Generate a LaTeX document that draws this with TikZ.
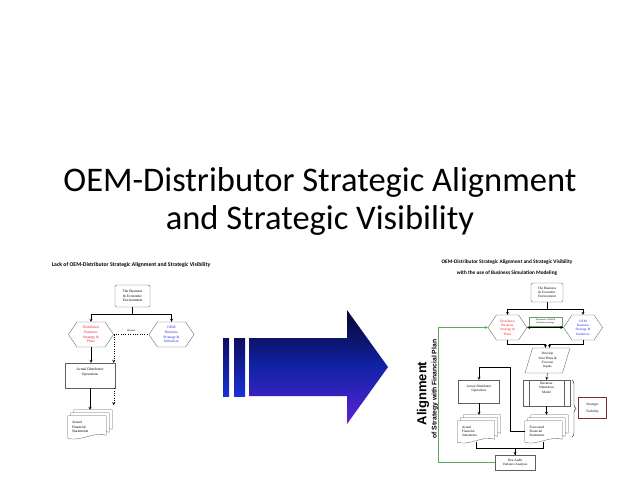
\documentclass[tikz,border=0pt]{standalone}
\usepackage{fontspec}
\setmainfont{Liberation Serif}
\newfontfamily\calibrifont{Carlito}
\newfontfamily\arialfont{Liberation Sans}
\usepackage{color}
\usepackage{tikz}
\usetikzlibrary{arrows,shapes.geometric,shapes.symbols,backgrounds,decorations.pathreplacing}

\definecolor{distred}{HTML}{E82020}
\definecolor{oemblue}{HTML}{2A2AE6}
\definecolor{edgegray}{HTML}{606060}
\definecolor{loopgreen}{HTML}{5FAA5F}
\definecolor{visred}{HTML}{7A2E2E}
\definecolor{navytop}{HTML}{06062E}
\definecolor{navymid}{HTML}{1222A6}
\definecolor{navybot}{HTML}{5A22D6}
\definecolor{bartop}{HTML}{0E0E62}
\definecolor{barbot}{HTML}{1A30D6}

\tikzset{
  flow/.style={draw=edgegray, line width=0.35pt, align=center, inner sep=0.5pt,
    font=\fontsize{3.7}{4.6}\selectfont},
  small/.style={font=\fontsize{3.4}{4.3}\selectfont},
  envbox/.style={flow, rounded corners=2pt},
  hexa/.style={flow, shape=signal, signal to=west and east, signal pointer angle=112},
  opsbox/.style={flow, rectangle, text height=7pt, text depth=7pt},
  simbox/.style={flow, rectangle, text height=9pt, text depth=9pt,
    path picture={
      \draw[edgegray, line width=0.35pt]
        ([xshift=6pt]path picture bounding box.north west) -- ([xshift=6pt]path picture bounding box.south west)
        ([xshift=-6pt]path picture bounding box.north east) -- ([xshift=-6pt]path picture bounding box.south east);
    }},
  slantbox/.style={flow, trapezium, trapezium left angle=74, trapezium right angle=106, trapezium stretches=true},
  docs/.style={align=left, inner sep=1pt, anchor=center, text width=30pt},
  link/.style={line width=0.35pt, ->},
  plain/.style={line width=0.35pt},
}

% back sheets and front sheet of a document pile, drawn behind node #1
\newcommand{\docpile}[1]{%
  \begin{scope}[on background layer]
    \foreach \d in {6,3,0}
      \draw[edgegray, line width=0.35pt, fill=white]
        ([xshift=\d pt,yshift=\d pt]#1.north west) -- ([xshift=\d pt,yshift=\d pt]#1.north east)
        -- ([xshift=\d pt,yshift=\d pt+3pt]#1.south east)
        .. controls ([xshift=\d pt-12pt,yshift=\d pt+7pt]#1.south east)
        and ([xshift=\d pt+12pt,yshift=\d pt-4pt]#1.south west)
        .. ([xshift=\d pt,yshift=\d pt]#1.south west) -- cycle;
  \end{scope}}

\begin{document}
\begin{tikzpicture}[x=1pt, y=-1pt, >=stealth]
\useasboundingbox (0,0) rectangle (640,480);

% slide title
\node[font=\calibrifont\fontsize{34.5}{38}\selectfont, align=center] (title) at (320,201)
  {OEM-Distributor Strategic Alignment\\and Strategic Visibility};

% ---- left: without alignment ----
\node[font=\calibrifont\bfseries\fontsize{5.7}{6.6}\selectfont] (lhead) at (131,265)
  {Lack of OEM-Distributor Strategic Alignment and Strategic Visibility};
\node[envbox, minimum width=35, minimum height=22] (lbiz) at (132.5,296) {The Business\\\& Economic\\Environment};
\node[hexa, minimum width=45, minimum height=25, text=distred] (ldist) at (91,334.5) {Distributor\\Business\\Strategy \&\\Plans};
\node[hexa, minimum width=45, minimum height=25, text=oemblue] (loem) at (171.5,334.5) {OEM\\Business\\Strategy \&\\Initiatives};
\node[opsbox, minimum width=50, minimum height=25] (lops) at (90,375.5) {Actual Distributor\\Operations};
\node[docs, minimum width=38, minimum height=22, font=\fontsize{3.7}{4.6}\selectfont] (lafs) at (87,427) {Actual\\Financial\\Statements};
\docpile{lafs}
\coordinate (lafs top) at ([xshift=3pt,yshift=6pt]lafs.north);

\draw[link] (lbiz.south) -- ++(0,7) -| (ldist.north);
\draw[link] (lbiz.south) -- ++(0,7) -| (loem.north);
\draw[plain, dotted] (ldist.east) -- node[above=-0.5pt, font=\fontsize{2.4}{3}\selectfont] {Minimal} (loem.west);
\draw[link, dotted] (ldist.east) -- (ldist.east |- lops.north);
\draw[link, dotted] (ldist.east |- lops.south) -- ++(0,17);
\draw[link] (ldist.south) -- (ldist.south |- lops.north);
\draw[link] (lops.south) -- (lops.south |- lafs top);

% ---- big arrow ----
\shade[top color=bartop, bottom color=barbot] (223,338) rectangle (229,396);
\shade[top color=bartop, bottom color=barbot] (234,338) rectangle (245,396);
\shade[top color=navytop, bottom color=navybot, middle color=navymid]
  (249,338) -- (347,338) -- (347,310) -- (388,367) -- (347,424) -- (347,396) -- (249,396) -- cycle;

% ---- right: with simulation modeling ----
\node[font=\calibrifont\bfseries\fontsize{5.3}{11}\selectfont, align=center] (rhead) at (507,267.5)
  {OEM-Distributor Strategic Alignment and Strategic Visibility\\with the use of Business Simulation Modeling};
\node[envbox, small, minimum width=32, minimum height=19] (rbiz) at (547,292.5) {The Business\\\& Economic\\Environment};
\node[hexa, small, minimum width=39, minimum height=25, text=distred] (rdist) at (507.5,327.5) {Distributor\\Business\\Strategy \&\\Plans};
\node[hexa, small, minimum width=39, minimum height=25, text=oemblue] (roem) at (583,327.5) {OEM\\Business\\Strategy \&\\Initiatives};
\node[flow, draw=loopgreen, line width=0.5pt, minimum width=33, minimum height=9,
  font=\fontsize{2.2}{2.8}\selectfont] (ralign) at (545.5,321.5) {Alignment of OEM \&\\Distributor Strategy};
\node[slantbox, small, minimum width=45, minimum height=25] (rdev) at (547.5,360.5) {Develop\\Joint Plans \&\\Forecast\\Inputs};
\node[opsbox, small, minimum width=41, minimum height=23] (rops) at (479,391.5) {Actual Distributor\\Operations};
\node[simbox, small, minimum width=47, minimum height=26] (rsim) at (546.5,393) {Business\\Simulation\\Model};
\node[flow, small, draw=visred, line width=1.4pt, minimum width=28, minimum height=21] (rvis) at (592.5,408) {Strategic\\[2.5pt]Visibility};
\node[docs, small, minimum width=37, minimum height=21, text width=28pt] (rafs) at (476,431.5) {Actual\\Financial\\Statements};
\node[docs, small, minimum width=37, minimum height=21, text width=28pt] (rfcs) at (543.5,431.5) {Forecasted\\Financial\\Statements};
\docpile{rafs}
\docpile{rfcs}
\node[flow, small, minimum width=40, minimum height=15] (rpost) at (515,462.5) {Post Audit\\Variance Analysis};
\coordinate (rafs top) at ([xshift=3pt,yshift=6pt]rafs.north);
\coordinate (rfcs top) at ([xshift=3pt,yshift=6pt]rfcs.north);
\coordinate (rloop) at (510,367);
\coordinate (bracetop) at (572,380);
\coordinate (bracebot) at (572,437);

\node[font=\arialfont\bfseries\fontsize{13}{14}\selectfont, rotate=90] (rtag) at (423,393.5) {Alignment};
\node[font=\arialfont\bfseries\fontsize{6.8}{8}\selectfont, rotate=90] (rsub) at (435,389) {of Strategy with Financial Plan};

\draw[link] (rbiz.south) -- ++(0,7) -| (rdist.north);
\draw[link] (rbiz.south) -- ++(0,7) -| (roem.north);
\draw[plain, <->] (rdist.east) -- (roem.west);
\draw[link] (rdist.south) -- ++(0,4) -| ([xshift=-2pt]rdev.north);
\draw[link] (roem.south) -- ++(0,4) -| ([xshift=2pt]rdev.north);
\draw[link] (rdev.south) -- (rsim.north);
\draw[link] (rsim.south) -- (rsim.south |- rfcs top);
\draw[link] (rops.south) -- (rops.south |- rafs top);
\draw[link] (rfcs.west) -| (rloop) -| (rops.north);
\draw[plain] (rafs.south) -- ++(0,6) -| (rpost.north);
\draw[link] (rfcs.south) -- ++(0,6) -| (rpost.north);
\draw[link, loopgreen] (rpost.west) -- ++(-57,0) |- (rdist.west);
\draw[plain, decorate, decoration={brace, amplitude=4pt}] (bracetop) -- (bracebot);
\end{tikzpicture}
\end{document}
